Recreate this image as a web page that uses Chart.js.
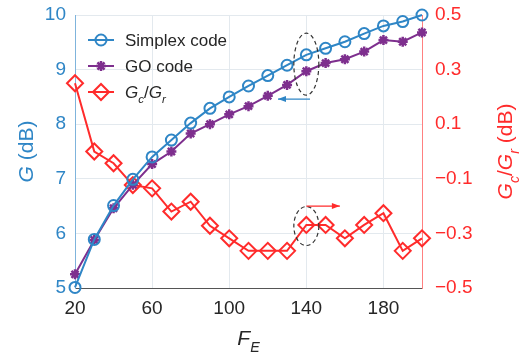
<!DOCTYPE html>
<html lang="en">
<head>
    <meta charset="UTF-8">
    <title>Gain vs F_E</title>
    <script src="https://cdn.jsdelivr.net/npm/chart.js"></script>
    <style>
        body { margin: 0; background: #fff; }
        #chartBox { width: 529px; height: 355px; }
    </style>
</head>
<body>
    <div id="chartBox"><canvas id="gainChart" width="529" height="355"></canvas></div>

    <script>
        // values
        const FE = [20, 30, 40, 50, 60, 70, 80, 90, 100, 110, 120, 130, 140, 150, 160, 170, 180, 190, 200];
        const SIMPLEX = [5.01, 5.89, 6.51, 6.99, 7.40, 7.71, 8.02, 8.29, 8.50, 8.70, 8.89, 9.08, 9.27, 9.39, 9.51, 9.66, 9.80, 9.88, 10.0];
        const GO = [5.25, 5.88, 6.46, 6.89, 7.27, 7.50, 7.83, 8.00, 8.18, 8.33, 8.52, 8.72, 8.97, 9.12, 9.19, 9.33, 9.54, 9.51, 9.68];
        const GC_GR = [0.25, 0.0, -0.043, -0.123, -0.135, -0.22, -0.184, -0.272, -0.318, -0.364, -0.364, -0.364, -0.269, -0.269, -0.318, -0.269, -0.226, -0.364, -0.318];

        const X_TICKS = [20, 60, 100, 140, 180];
        const G_TICKS = [5, 6, 7, 8, 9, 10];
        const R_TICKS = [-0.5, -0.3, -0.1, 0.1, 0.3, 0.5];

        const BLUE = '#2f86c6';
        const PURPLE = '#7e2f8e';
        const RED = '#ff2b2b';
        const FONT = '"Liberation Sans", Arial, sans-serif';

        const pts = ys => FE.map((x, i) => ({ x: x, y: ys[i] }));

        // measure / draw text made of italic and subscript pieces
        function richWidth(ctx, parts, size) {
            let w = 0;
            parts.forEach(p => {
                const s = p.sub ? size * 0.68 : size;
                ctx.font = (p.italic ? 'italic ' : '') + s + 'px ' + FONT;
                w += ctx.measureText(p.t).width;
            });
            return w;
        }
        function drawRich(ctx, parts, x, y, size, color) {
            ctx.fillStyle = color;
            ctx.textBaseline = 'alphabetic';
            ctx.textAlign = 'left';
            parts.forEach(p => {
                const s = p.sub ? size * 0.68 : size;
                ctx.font = (p.italic ? 'italic ' : '') + s + 'px ' + FONT;
                ctx.fillText(p.t, x, p.sub ? y + size * 0.32 : y);
                x += ctx.measureText(p.t).width;
            });
        }

        const extras = {
            id: 'extras',
            afterDraw(chart) {
                const ctx = chart.ctx;
                const a = chart.chartArea;
                const xs = chart.scales.x, yl = chart.scales.yG, yr = chart.scales.yR;
                ctx.save();

                // axis titles
                const gTitle = [{ t: 'G', italic: true }, { t: ' (dB)' }];
                let w = richWidth(ctx, gTitle, 21);
                ctx.save();
                ctx.translate(33, (a.top + a.bottom) / 2);
                ctx.rotate(-Math.PI / 2);
                drawRich(ctx, gTitle, -w / 2, 0, 21, BLUE);
                ctx.restore();

                const rTitle = [{ t: 'G', italic: true }, { t: 'c', italic: true, sub: true }, { t: '/' },
                                { t: 'G', italic: true }, { t: 'r', italic: true, sub: true }, { t: ' (dB)' }];
                w = richWidth(ctx, rTitle, 21);
                ctx.save();
                ctx.translate(512, (a.top + a.bottom) / 2);
                ctx.rotate(-Math.PI / 2);
                drawRich(ctx, rTitle, -w / 2, 0, 21, RED);
                ctx.restore();

                const xTitle = [{ t: 'F', italic: true }, { t: 'E', italic: true, sub: true }];
                w = richWidth(ctx, xTitle, 21);
                drawRich(ctx, xTitle, (a.left + a.right) / 2 - w / 2, 345, 21, '#262626');

                // legend
                const rows = [
                    { ds: chart.data.datasets[0], text: [{ t: 'Simplex code' }] },
                    { ds: chart.data.datasets[1], text: [{ t: 'GO code' }] },
                    { ds: chart.data.datasets[2], text: [{ t: 'G', italic: true }, { t: 'c', italic: true, sub: true }, { t: '/' }, { t: 'G', italic: true }, { t: 'r', italic: true, sub: true }] }
                ];
                rows.forEach((r, i) => {
                    const cy = a.top + 25 + i * 26;
                    const x0 = a.left + 13;
                    ctx.strokeStyle = r.ds.borderColor;
                    ctx.fillStyle = r.ds.backgroundColor;
                    ctx.lineWidth = 2;
                    ctx.beginPath();
                    ctx.moveTo(x0, cy);
                    ctx.lineTo(x0 + 26, cy);
                    ctx.stroke();
                    ctx.lineWidth = r.ds.pointBorderWidth;
                    Chart.helpers.drawPoint(ctx, {
                        pointStyle: r.ds.pointStyle,
                        radius: r.ds.pointRadius,
                        borderWidth: r.ds.pointBorderWidth
                    }, x0 + 13, cy);
                    drawRich(ctx, r.text, x0 + 37, cy + 6, 17, '#262626');
                });

                // dashed ellipses + arrows
                ctx.strokeStyle = '#333';
                ctx.lineWidth = 1.2;
                ctx.setLineDash([4, 3]);
                const ex = xs.getPixelForValue(140);
                ctx.beginPath();
                ctx.ellipse(ex, yl.getPixelForValue(9.1), 12.5, 31, 0, 0, Math.PI * 2);
                ctx.stroke();
                ctx.beginPath();
                ctx.ellipse(ex, yr.getPixelForValue(-0.273), 12.5, 19.5, 0, 0, Math.PI * 2);
                ctx.stroke();
                ctx.setLineDash([]);

                function arrow(x1, y1, x2, color) {
                    ctx.strokeStyle = color;
                    ctx.fillStyle = color;
                    ctx.lineWidth = 1.3;
                    ctx.beginPath();
                    ctx.moveTo(x1, y1);
                    ctx.lineTo(x2, y1);
                    ctx.stroke();
                    const d = Math.sign(x2 - x1);
                    ctx.beginPath();
                    ctx.moveTo(x2, y1);
                    ctx.lineTo(x2 - d * 8, y1 - 3);
                    ctx.lineTo(x2 - d * 8, y1 + 3);
                    ctx.closePath();
                    ctx.fill();
                }
                arrow(xs.getPixelForValue(141.9), yl.getPixelForValue(8.46), xs.getPixelForValue(125.3), BLUE);
                arrow(xs.getPixelForValue(140), yr.getPixelForValue(-0.2), xs.getPixelForValue(157.4), RED);

                ctx.restore();
            }
        };

        const gridColor = '#e3e9ee';

        // fixed box sizes, no extra room for overhanging tick labels
        const fixY = w => s => { s.width = w; s.paddingTop = 0; s.paddingBottom = 0; };

        new Chart(document.getElementById('gainChart'), {
            type: 'line',
            data: {
                datasets: [{
                    label: 'Simplex code',
                    data: pts(SIMPLEX),
                    yAxisID: 'yG',
                    borderColor: BLUE,
                    backgroundColor: 'rgba(0,0,0,0)',
                    borderWidth: 2,
                    pointStyle: 'circle',
                    pointRadius: 5.5,
                    pointBorderWidth: 2,
                    clip: false,
                    order: 1
                }, {
                    label: 'GO code',
                    data: pts(GO),
                    yAxisID: 'yG',
                    borderColor: PURPLE,
                    backgroundColor: PURPLE,
                    borderWidth: 2,
                    pointStyle: 'star',
                    pointRadius: 5,
                    pointBorderWidth: 2.5,
                    clip: false,
                    order: 2
                }, {
                    label: 'Gc/Gr',
                    data: pts(GC_GR),
                    yAxisID: 'yR',
                    borderColor: RED,
                    backgroundColor: 'rgba(0,0,0,0)',
                    borderWidth: 2,
                    pointStyle: 'rectRot',
                    pointRadius: 8,
                    pointBorderWidth: 2,
                    clip: false,
                    order: 3
                }]
            },
            options: {
                responsive: false,
                animation: false,
                layout: { padding: { top: 15, left: 0, right: 0, bottom: 0 } },
                plugins: { legend: { display: false }, tooltip: { enabled: false } },
                scales: {
                    x: {
                        type: 'linear',
                        min: 20,
                        max: 200,
                        afterBuildTicks: s => { s.ticks = X_TICKS.map(v => ({ value: v })); },
                        afterFit: s => { s.height = 67; s.paddingLeft = 0; s.paddingRight = 0; },
                        grid: { color: gridColor, drawTicks: false },
                        border: { color: '#555', width: 1 },
                        ticks: { color: '#262626', padding: 9, maxRotation: 0, font: { family: FONT, size: 19 } }
                    },
                    yG: {
                        position: 'left',
                        min: 5,
                        max: 10,
                        afterBuildTicks: s => { s.ticks = G_TICKS.map(v => ({ value: v })); },
                        afterFit: fixY(75),
                        grid: { color: gridColor, drawTicks: false },
                        border: { color: '#7fb4dc', width: 1 },
                        ticks: { color: BLUE, padding: 9, font: { family: FONT, size: 19 } }
                    },
                    yR: {
                        position: 'right',
                        min: -0.5,
                        max: 0.5,
                        afterBuildTicks: s => { s.ticks = R_TICKS.map(v => ({ value: v })); },
                        afterFit: fixY(107),
                        grid: { display: false, drawTicks: false },
                        border: { color: '#ff8080', width: 1 },
                        ticks: {
                            color: RED,
                            padding: 13,
                            font: { family: FONT, size: 19 },
                            callback: v => v.toFixed(1).replace('-', '\u2212')
                        }
                    }
                }
            },
            plugins: [extras]
        });
    </script>
</body>
</html>
